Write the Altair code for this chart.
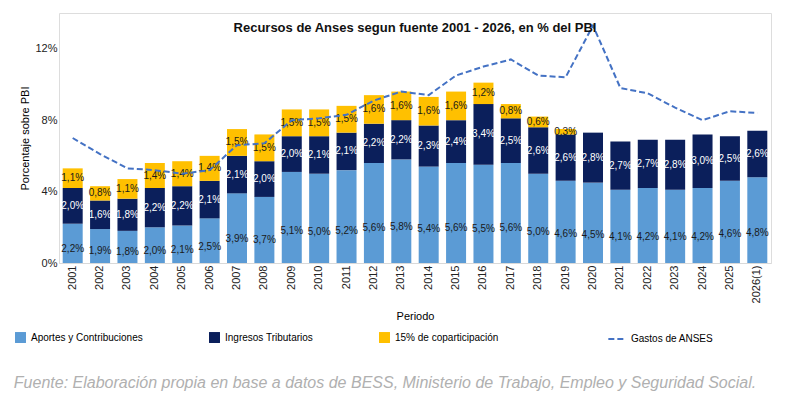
import altair as alt
import pandas as pd

years = [str(y) for y in range(2001, 2026)] + ["2026(1)"]
aportes = [2.2, 1.9, 1.8, 2.0, 2.1, 2.5, 3.9, 3.7, 5.1, 5.0, 5.2, 5.6, 5.8, 5.4, 5.6, 5.5, 5.6, 5.0, 4.6, 4.5, 4.1, 4.2, 4.1, 4.2, 4.6, 4.8]
tributarios = [2.0, 1.6, 1.8, 2.2, 2.2, 2.1, 2.1, 2.0, 2.0, 2.1, 2.1, 2.2, 2.2, 2.3, 2.4, 3.4, 2.5, 2.6, 2.6, 2.8, 2.7, 2.7, 2.8, 3.0, 2.5, 2.6]
copart = [1.1, 0.8, 1.1, 1.4, 1.4, 1.4, 1.5, 1.5, 1.5, 1.5, 1.5, 1.6, 1.6, 1.6, 1.6, 1.2, 0.8, 0.6, 0.3, 0, 0, 0, 0, 0, 0, 0]
gastos = [7.0, 6.1, 5.3, 5.2, 5.0, 5.2, 6.6, 6.7, 8.0, 8.1, 8.3, 9.1, 9.6, 9.4, 10.5, 11.0, 11.4, 10.5, 10.4, 13.3, 9.8, 9.5, 8.7, 8.0, 8.5, 8.4]

series = ["Aportes y Contribuciones", "Ingresos Tributarios", "15% de coparticipación"]
colors = ["#5B9BD5", "#0B1F5B", "#FFC000"]
textcol = ["#1a1a1a", "white", "#1a1a1a"]

rows = []
for i, y in enumerate(years):
    base = 0
    for k, (s, vals) in enumerate(zip(series, [aportes, tributarios, copart])):
        v = vals[i]
        rows.append({"year": y, "serie": s, "order": k, "v": v, "y0": base, "y1": base + v,
                     "mid": base + v / 2 - (v * 0.15 if k == 0 else 0),
                     "lab": (f"{v:.1f}%".replace(".", ",") if v > 0 else ""), "tc": textcol[k]})
        base += v
df = pd.DataFrame(rows)
line_df = pd.DataFrame({"year": years, "gastos": gastos, "g": "Gastos de ANSES"})

W, H = 712, 250
x = alt.X("year:N", sort=years, title="Periodo",
          axis=alt.Axis(labelAngle=-90, labelFontSize=11, titleFontSize=11, titleFontWeight="normal",
                        ticks=False, domainColor="#d9d9d9", labelColor="#222", titlePadding=8))

bars = alt.Chart(df).mark_bar(size=20).encode(
    x=x,
    y=alt.Y("y0:Q", scale=alt.Scale(domain=[0, 14]), title="Porcentaje sobre PBI",
            axis=alt.Axis(values=list(range(0, 15)), labelExpr="datum.value + '%'", grid=False,
                          domain=False, ticks=False, labelFontSize=11, titleFontSize=11,
                          labelOverlap=False, titleFontWeight="normal", labelColor="#222")),
    y2="y1:Q",
    color=alt.Color("serie:N", scale=alt.Scale(domain=series, range=colors),
                    legend=alt.Legend(title=None, orient="none", legendX=-45, legendY=H + 68,
                                      direction="horizontal", columnPadding=65, labelFontSize=10,
                                      symbolType="square", symbolSize=120, labelLimit=300)),
)

labels = alt.Chart(df).mark_text(fontSize=10).encode(
    x=alt.X("year:N", sort=years), y="mid:Q", text="lab:N",
    color=alt.Color("tc:N", scale=None),
)

line = alt.Chart(line_df).mark_line(strokeDash=[6, 3], strokeWidth=2).encode(
    x=alt.X("year:N", sort=years), y="gastos:Q",
    strokeDash=alt.StrokeDash("g:N", scale=alt.Scale(range=[[6, 3]]),
                              legend=alt.Legend(title=None, orient="none", legendX=548, legendY=H + 66,
                                                labelFontSize=10, symbolStrokeColor="#4472C4",
                                                symbolStrokeWidth=2, symbolSize=300)),
    color=alt.value("#4472C4"),
)

foot = alt.Chart(pd.DataFrame({"t": ["Fuente: Elaboración propia en base a datos de BESS, Ministerio de Trabajo, Empleo y Seguridad Social."]})).mark_text(
    fontSize=16, fontStyle="italic", color="#b0b0b0", align="center"
).encode(text="t:N", x=alt.value(W / 2 - 30), y=alt.value(H + 120))

chart = alt.layer(bars, labels, line, foot).properties(
    width=W, height=H,
    title=alt.TitleParams("Recursos de Anses segun fuente 2001 - 2026, en % del PBI",
                          fontSize=13, fontWeight="bold", offset=-22, color="#111"),
).configure_view(stroke=None).configure(font="Liberation Sans")

chart.save("out.html", embed_options={"renderer": "svg", "actions": False})
